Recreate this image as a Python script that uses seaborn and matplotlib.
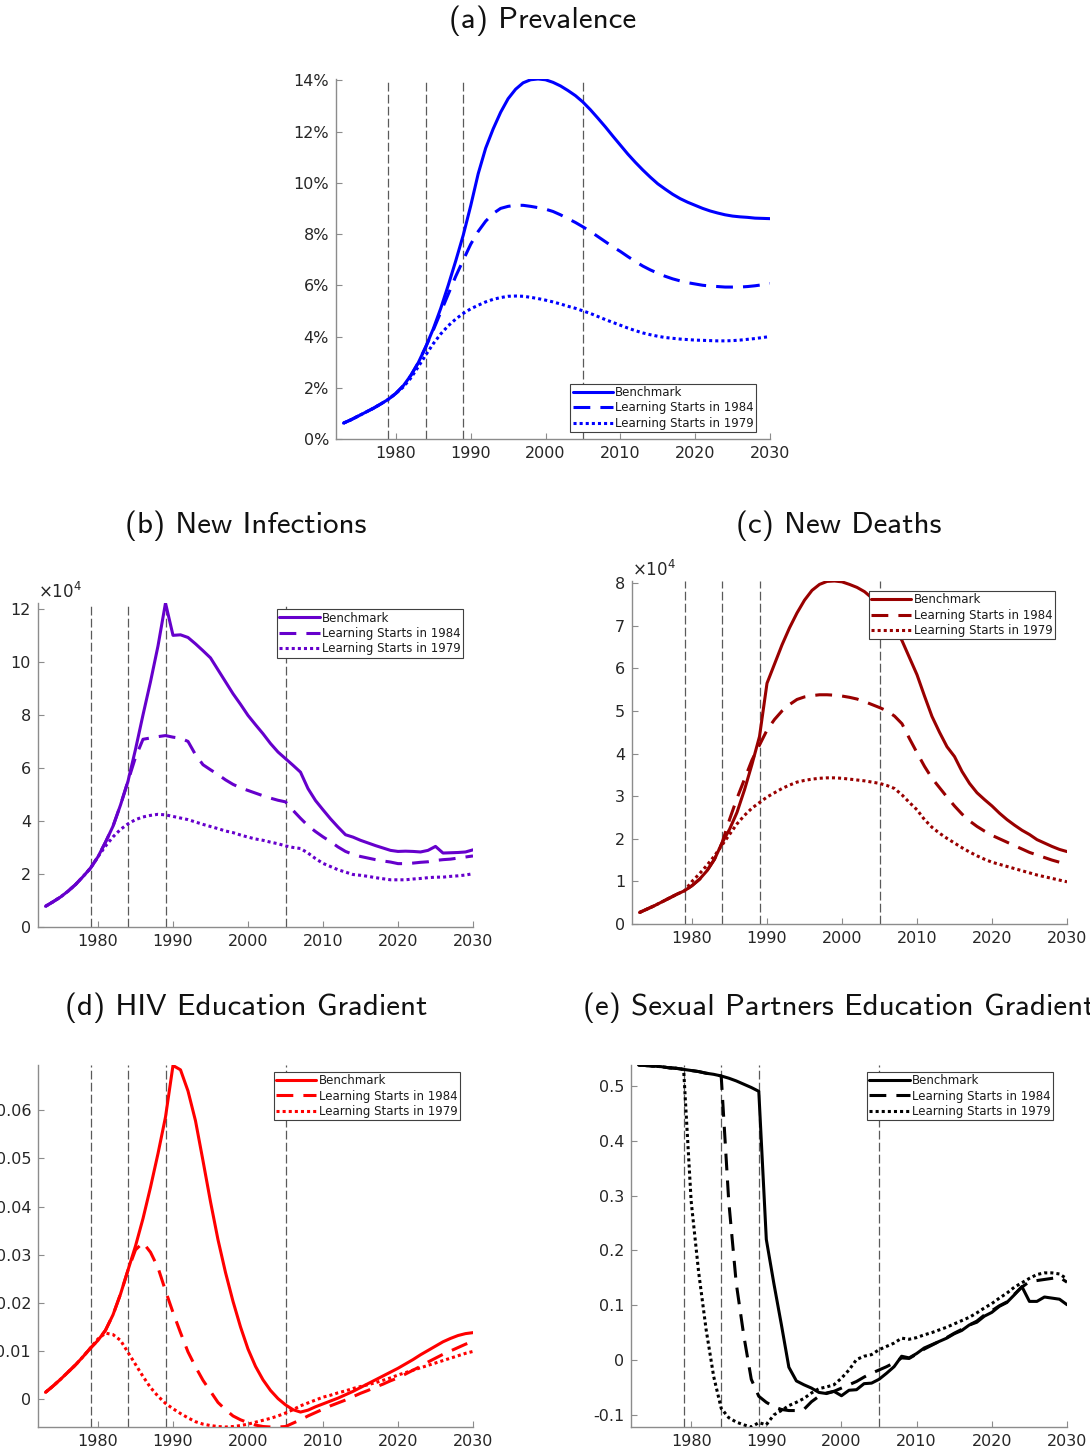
import matplotlib
matplotlib.use("Agg")
import matplotlib.pyplot as plt
from matplotlib.ticker import FuncFormatter
import seaborn as sns

# ---------------------------------------------------------------- data
years = list(range(1973, 2031))
cutoff_years = [1979, 1984, 1989, 2005]
labels = ["Benchmark", "Learning Starts in 1984", "Learning Starts in 1979"]

# (a) HIV prevalence, percent
prev_bench = [0.62, 0.75, 0.90, 1.05, 1.20, 1.37, 1.55, 1.78, 2.08, 2.48,
              2.98, 3.60, 4.30, 5.10, 6.00, 6.95, 7.95, 9.10, 10.35, 11.35,
              12.10, 12.75, 13.28, 13.65, 13.90, 14.02, 14.05, 14.02, 13.92, 13.78,
              13.60, 13.40, 13.15, 12.85, 12.52, 12.18, 11.82, 11.47, 11.12, 10.80,
              10.50, 10.22, 9.96, 9.75, 9.55, 9.38, 9.24, 9.12, 9.00, 8.90,
              8.82, 8.75, 8.70, 8.67, 8.65, 8.62, 8.61, 8.60]
prev_1984 = prev_bench[:12] + [
    4.25, 4.95, 5.65, 6.35, 6.98, 7.60, 8.10, 8.50, 8.80, 9.00,
    9.08, 9.12, 9.12, 9.08, 9.03, 8.97, 8.88, 8.75, 8.60, 8.45,
    8.28, 8.10, 7.90, 7.70, 7.50, 7.32, 7.12, 6.93, 6.75, 6.60,
    6.47, 6.35, 6.25, 6.17, 6.10, 6.05, 6.00, 5.97, 5.95, 5.93,
    5.93, 5.93, 5.95, 5.98, 6.02, 6.07]
prev_1979 = prev_bench[:8] + [
    2.03, 2.38, 2.82, 3.28, 3.72, 4.10, 4.42, 4.68, 4.90, 5.08,
    5.22, 5.35, 5.45, 5.52, 5.57, 5.58, 5.57, 5.53, 5.48, 5.42,
    5.35, 5.27, 5.18, 5.10, 5.00, 4.90, 4.78, 4.66, 4.55, 4.44,
    4.33, 4.23, 4.14, 4.07, 4.01, 3.96, 3.93, 3.90, 3.88, 3.86,
    3.85, 3.84, 3.83, 3.83, 3.84, 3.86, 3.89, 3.92, 3.96, 4.00]

# (b) new infections, in units of 10^4
inf_bench = [0.78, 0.95, 1.13, 1.35, 1.60, 1.90, 2.22, 2.65, 3.20, 3.80,
             4.60, 5.50, 6.70, 8.00, 9.25, 10.60, 12.22, 11.00, 11.02, 10.92,
             10.68, 10.42, 10.15, 9.70, 9.25, 8.80, 8.40, 7.98, 7.63, 7.29,
             6.92, 6.60, 6.35, 6.10, 5.84, 5.22, 4.77, 4.42, 4.08, 3.77,
             3.48, 3.39, 3.27, 3.17, 3.07, 2.98, 2.89, 2.85, 2.86, 2.85,
             2.83, 2.89, 3.04, 2.79, 2.80, 2.81, 2.83, 2.91]
inf_1984 = inf_bench[:12] + [
    6.40, 7.08, 7.13, 7.18, 7.22, 7.16, 7.12, 7.00, 6.50, 6.12,
    5.93, 5.75, 5.55, 5.38, 5.25, 5.15, 5.05, 4.95, 4.86, 4.78,
    4.72, 4.40, 4.10, 3.82, 3.60, 3.40, 3.22, 3.02, 2.85, 2.74,
    2.66, 2.60, 2.54, 2.49, 2.45, 2.39, 2.39, 2.41, 2.44, 2.46,
    2.51, 2.54, 2.56, 2.60, 2.64, 2.68]
inf_1979 = inf_bench[:8] + [
    3.05, 3.40, 3.68, 3.89, 4.05, 4.15, 4.21, 4.25, 4.23, 4.17,
    4.11, 4.05, 3.96, 3.87, 3.79, 3.71, 3.62, 3.56, 3.47, 3.39,
    3.32, 3.27, 3.20, 3.14, 3.06, 3.00, 2.96, 2.79, 2.58, 2.40,
    2.28, 2.16, 2.07, 1.98, 1.95, 1.91, 1.86, 1.82, 1.78, 1.78,
    1.78, 1.81, 1.83, 1.86, 1.88, 1.88, 1.91, 1.93, 1.96, 2.01]

# (c) new deaths, in units of 10^4
death_bench = [0.27, 0.35, 0.43, 0.52, 0.61, 0.70, 0.78, 0.90, 1.05, 1.25,
               1.52, 1.90, 2.22, 2.62, 3.15, 3.75, 4.40, 5.65, 6.10, 6.55,
               6.95, 7.30, 7.60, 7.83, 7.97, 8.04, 8.05, 8.03, 7.97, 7.90,
               7.80, 7.65, 7.45, 7.20, 6.95, 6.65, 6.25, 5.85, 5.35, 4.87,
               4.50, 4.16, 3.93, 3.58, 3.30, 3.08, 2.92, 2.77, 2.60, 2.45,
               2.32, 2.20, 2.10, 1.98, 1.90, 1.82, 1.75, 1.70]
death_1984 = death_bench[:12] + [
    2.45, 2.95, 3.40, 3.85, 4.20, 4.55, 4.80, 5.00, 5.15, 5.27,
    5.33, 5.36, 5.38, 5.38, 5.37, 5.35, 5.32, 5.28, 5.22, 5.15,
    5.08, 5.00, 4.88, 4.70, 4.35, 4.02, 3.70, 3.42, 3.20, 2.98,
    2.77, 2.58, 2.42, 2.29, 2.18, 2.08, 2.00, 1.92, 1.84, 1.76,
    1.68, 1.62, 1.56, 1.50, 1.45, 1.40]
death_1979 = death_bench[:7] + [
    1.00, 1.18, 1.38, 1.60, 1.85, 2.10, 2.35, 2.55, 2.72, 2.85,
    2.98, 3.08, 3.18, 3.26, 3.33, 3.37, 3.40, 3.42, 3.43, 3.43,
    3.42, 3.40, 3.38, 3.36, 3.33, 3.30, 3.25, 3.18, 3.03, 2.85,
    2.68, 2.45, 2.27, 2.13, 2.01, 1.90, 1.79, 1.69, 1.60, 1.52,
    1.45, 1.40, 1.35, 1.30, 1.25, 1.20, 1.15, 1.11, 1.07, 1.03, 0.99]

# (d) HIV education gradient
hiv_bench = [0.0014, 0.0027, 0.0041, 0.0056, 0.0071, 0.0088, 0.0106, 0.0122, 0.0143, 0.0175,
             0.0218, 0.0268, 0.0318, 0.0375, 0.0440, 0.0510, 0.0586, 0.0693, 0.0684, 0.0640,
             0.0578, 0.0495, 0.0410, 0.0331, 0.0263, 0.0203, 0.0150, 0.0104, 0.0068, 0.0040,
             0.0018, 0.0001, -0.0012, -0.0022, -0.0027, -0.0023, -0.0016, -0.0010, -0.0004, 0.0002,
             0.0009, 0.0016, 0.0024, 0.0032, 0.0040, 0.0048, 0.0056, 0.0064, 0.0073, 0.0082,
             0.0092, 0.0101, 0.0110, 0.0119, 0.0126, 0.0132, 0.0136, 0.0138]
hiv_1984 = hiv_bench[:12] + [
    0.0310, 0.0325, 0.0305, 0.0273, 0.0225, 0.0180, 0.0138, 0.0098, 0.0067, 0.0039,
    0.0016, -0.0007, -0.0022, -0.0035, -0.0043, -0.0049, -0.0054, -0.0057, -0.0058, -0.0058,
    -0.0057, -0.0050, -0.0043, -0.0035, -0.0028, -0.0021, -0.0014, -0.0008, -0.0002, 0.0005,
    0.0012, 0.0018, 0.0025, 0.0031, 0.0038, 0.0044, 0.0052, 0.0060, 0.0068, 0.0077,
    0.0085, 0.0093, 0.0100, 0.0107, 0.0114, 0.0120]
hiv_1979 = hiv_bench[:7] + [
    0.0125, 0.0137, 0.0134, 0.0122, 0.0097, 0.0072, 0.0047, 0.0024, 0.0006, -0.0009,
    -0.0020, -0.0030, -0.0039, -0.0047, -0.0052, -0.0055, -0.0057, -0.0058, -0.0057, -0.0055,
    -0.0052, -0.0048, -0.0044, -0.0040, -0.0035, -0.0029, -0.0022, -0.0014, -0.0008, -0.0002,
    0.0004, 0.0008, 0.0013, 0.0017, 0.0022, 0.0026, 0.0030, 0.0034, 0.0039, 0.0044,
    0.0050, 0.0055, 0.0060, 0.0065, 0.0070, 0.0075, 0.0080, 0.0085, 0.0090, 0.0095, 0.0099]

# (e) sexual partners education gradient
sp_bench = [0.538, 0.537, 0.536, 0.535, 0.533, 0.532, 0.530, 0.528, 0.526, 0.523,
            0.521, 0.518, 0.514, 0.509, 0.503, 0.497, 0.490, 0.220, 0.140, 0.065,
            -0.013, -0.038, -0.045, -0.051, -0.059, -0.061, -0.057, -0.065, -0.055, -0.054,
            -0.043, -0.042, -0.035, -0.024, -0.012, 0.007, 0.004, 0.012, 0.022, 0.028,
            0.034, 0.040, 0.048, 0.054, 0.064, 0.069, 0.080, 0.087, 0.098, 0.105,
            0.119, 0.134, 0.107, 0.107, 0.115, 0.113, 0.111, 0.101]
sp_1984 = sp_bench[:12] + [
    0.290, 0.140, 0.045, -0.035, -0.066, -0.077, -0.085, -0.090, -0.092, -0.092,
    -0.090, -0.076, -0.066, -0.060, -0.057, -0.051, -0.045, -0.039, -0.031, -0.024,
    -0.018, -0.012, -0.005, 0.004, 0.003, 0.011, 0.020, 0.027, 0.034, 0.041,
    0.049, 0.056, 0.064, 0.071, 0.082, 0.090, 0.099, 0.106, 0.120, 0.133,
    0.143, 0.145, 0.147, 0.149, 0.151, 0.142]
sp_1979 = sp_bench[:7] + [
    0.290, 0.160, 0.055, -0.030, -0.088, -0.105, -0.113, -0.118, -0.122, -0.114,
    -0.118, -0.100, -0.092, -0.083, -0.077, -0.070, -0.060, -0.052, -0.049, -0.045,
    -0.033, -0.018, 0.001, 0.007, 0.010, 0.019, 0.025, 0.031, 0.040, 0.038,
    0.041, 0.046, 0.050, 0.055, 0.060, 0.066, 0.072, 0.078, 0.086, 0.095,
    0.103, 0.113, 0.122, 0.133, 0.141, 0.149, 0.156, 0.159, 0.159, 0.157, 0.148]

# ---------------------------------------------------------------- style
sns.set_style("ticks")
plt.rcParams["font.family"] = ["DejaVu Sans"]
plt.rcParams["axes.unicode_minus"] = False

W, H = 1090, 1456
fig = plt.figure(figsize=(W / 100, H / 100), dpi=100)
fig.patch.set_facecolor("white")

TEXT = "#262626"
AXIS = "#8c8c8c"
LINESTYLES = ["-", (0, (5.5, 3.3)), (0, (1.0, 1.0))]


def axes_px(left, top, right, bottom):
    return fig.add_axes([left / W, 1 - bottom / H, (right - left) / W, (bottom - top) / H])


def fig_text(x, y, s, **kw):
    fig.text(x / W, 1 - y / H, s, **kw)


def draw_panel(ax, series, color, ylim, yticks, fmt, loc, anchor):
    for yr in cutoff_years:
        ax.axvline(yr, color="#5a5a5a", lw=0.9, linestyle=(0, (7, 2.6)), zorder=1)
    handles = []
    for vals, ls, lab in zip(series, LINESTYLES, labels):
        sns.lineplot(x=years, y=vals, ax=ax, color=color, linewidth=2.2,
                     linestyle=ls, label=lab, legend=False, zorder=3)
        handles.append(ax.lines[-1])
    ax.set_xlim(1972, 2030)
    ax.set_ylim(*ylim)
    ax.set_xticks(range(1980, 2031, 10))
    ax.set_yticks(yticks)
    ax.yaxis.set_major_formatter(FuncFormatter(fmt))
    ax.set_xlabel("")
    ax.set_ylabel("")
    for side in ("top", "right"):
        ax.spines[side].set_visible(False)
    for side in ("left", "bottom"):
        ax.spines[side].set_color(AXIS)
        ax.spines[side].set_linewidth(1.0)
    ax.tick_params(direction="in", length=4, width=0.8, color=AXIS,
                   labelsize=11.5, labelcolor=TEXT, pad=5)
    leg = ax.legend(handles, labels, loc=loc, bbox_to_anchor=anchor,
                    fontsize=8.5, handlelength=3.4, handletextpad=0.2,
                    borderpad=0.2, labelspacing=0.2, borderaxespad=0,
                    frameon=True, fancybox=False, framealpha=1)
    for t in leg.get_texts():
        t.set_color("#1a1a1a")
    leg.get_frame().set_edgecolor("#404040")
    leg.get_frame().set_linewidth(0.8)
    leg.get_frame().set_facecolor("white")


def pct(v, _):
    return f"{v:.0f}%"


def plain(v, _):
    return f"{v:g}"


TITLE_KW = dict(fontfamily="cmss10", fontsize=22.3, color="#111111",
                ha="center", va="center")

# (a)
ax_a = axes_px(336, 79, 770, 439)
draw_panel(ax_a, [prev_bench, prev_1984, prev_1979], "#0000ff", (0, 14.05),
           range(0, 15, 2), pct, "lower right", (0.968, 0.019))
fig_text(543, 21, "(a) Prevalence", **TITLE_KW)

# (b)
ax_b = axes_px(38, 603, 473, 927)
draw_panel(ax_b, [inf_bench, inf_1984, inf_1979], "#6600cc", (0, 12.22),
           range(0, 13, 2), plain, "upper right", (0.977, 0.981))
fig_text(246, 526, "(b) New Infections", **TITLE_KW)
fig_text(38, 592, r"$\times10^{4}$", fontsize=12, color=TEXT, ha="left", va="center")

# (c)
ax_c = axes_px(632, 581, 1067, 924)
draw_panel(ax_c, [death_bench, death_1984, death_1979], "#990000", (0, 8.05),
           range(0, 9, 1), plain, "upper right", (0.972, 0.971))
fig_text(839, 526, "(c) New Deaths", **TITLE_KW)
fig_text(632, 570, r"$\times10^{4}$", fontsize=12, color=TEXT, ha="left", va="center")

# (d)
ax_d = axes_px(38, 1065, 473, 1427)
draw_panel(ax_d, [hiv_bench, hiv_1984, hiv_1979], "#ff0000", (-0.0058, 0.0694),
           [0, 0.01, 0.02, 0.03, 0.04, 0.05, 0.06], plain, "upper right", (0.970, 0.981))
fig_text(246, 1008, "(d) HIV Education Gradient", **TITLE_KW)

# (e)
ax_e = axes_px(631, 1065, 1067, 1427)
draw_panel(ax_e, [sp_bench, sp_1984, sp_1979], "#000000", (-0.122, 0.538),
           [-0.1, 0, 0.1, 0.2, 0.3, 0.4, 0.5], plain, "upper right", (0.968, 0.981))
fig_text(839, 1008, "(e) Sexual Partners Education Gradient", **TITLE_KW)

fig.savefig("out.png", dpi=100, facecolor="white")
